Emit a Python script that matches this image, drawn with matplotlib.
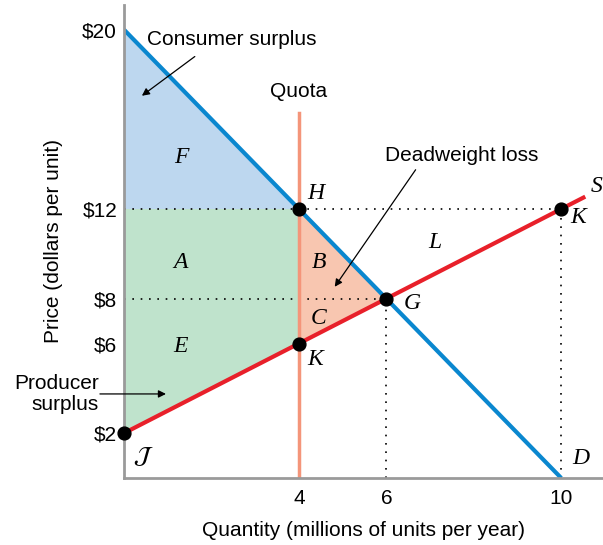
import numpy as np
import matplotlib.pyplot as plt

# demand / supply endpoints (quantity, price)
demand_q = [0, 10]
demand_p = [20, 0]
supply_q = [0, 10.55]
supply_p = [2, 12.55]
quota = 4

# labelled points
pts_q = [4, 6, 10, 4, 0]
pts_p = [12, 8, 12, 6, 2]

yticks = [2, 6, 8, 12, 20]
ytick_labels = ["$2", "$6", "$8", "$12", "$20"]
xticks = [4, 6, 10]

blue = "#0a87cf"
red = "#e8202a"
salmon = "#f4957a"
grey = "#9a9a9a"

plt.rcParams["font.family"] = ["Liberation Sans", "DejaVu Sans"]
plt.rcParams["mathtext.fontset"] = "stix"
serif = dict(family="Liberation Serif", style="italic", fontsize=17)
fs = 15

fig = plt.figure(figsize=(6.03, 5.45), dpi=100)
ax = fig.add_axes([0.2056, 0.1229, 0.794, 0.868])
ax.set_xlim(0, 10.95)
ax.set_ylim(0, 21.1)

# surplus areas
ax.fill([0, 0, 4], [12, 20, 12], color="#bdd7ef", lw=0)
ax.fill([0, 0, 4, 4], [2, 12, 12, 6], color="#bfe3cc", lw=0)
ax.fill([4, 4, 6], [6, 12, 8], color="#f8c6b0", lw=0)

# dotted guides
dot = dict(color="black", ls=(0, (1, 4)), lw=1.2)
ax.plot([0, 10], [12, 12], **dot)
ax.plot([0, 6], [8, 8], **dot)
ax.plot([6, 6], [0, 8], **dot)
ax.plot([10, 10], [0, 12], **dot)

# quota line
ax.plot([quota, quota], [0, 16.3], color=salmon, lw=2.5)
ax.text(quota, 16.8, "Quota", ha="center", va="bottom", fontsize=fs)

ax.plot(demand_q, demand_p, color=blue, lw=3, solid_capstyle="butt")
ax.plot(supply_q, supply_p, color=red, lw=3, solid_capstyle="butt")

ax.scatter(pts_q, pts_p, s=85, color="black", zorder=5, clip_on=False)

# area letters
ax.text(1.3, 14.3, "F", ha="center", va="center", **serif)
ax.text(1.3, 9.6, "A", ha="center", va="center", **serif)
ax.text(1.3, 5.85, "E", ha="center", va="center", **serif)
ax.text(4.45, 9.6, "B", ha="center", va="center", **serif)
ax.text(4.45, 7.1, "C", ha="center", va="center", **serif)
ax.text(7.1, 10.5, "L", ha="center", va="center", **serif)

# point letters
ax.text(4.2, 12.7, "H", ha="left", va="center", **serif)
ax.text(6.4, 7.8, "G", ha="left", va="center", **serif)
ax.text(10.2, 11.6, "K", ha="left", va="center", **serif)
ax.text(4.2, 5.3, "K", ha="left", va="center", **serif)
ax.text(0.2, 0.95, r"$\mathcal{J}$", ha="left", va="center", fontsize=17)
ax.text(10.25, 0.85, "D", ha="left", va="center", **serif)
ax.text(10.68, 13.0, "S", ha="left", va="center", clip_on=False, **serif)

# annotations
arrow = dict(arrowstyle="-|>", color="black", lw=0.9,
             shrinkA=0, shrinkB=0, mutation_scale=11)
ax.text(0.53, 19.55, "Consumer surplus", fontsize=fs, ha="left", va="center")
ax.annotate("", xy=(0.41, 17.05), xytext=(1.62, 18.8), arrowprops=arrow)
ax.text(7.73, 14.4, "Deadweight loss", fontsize=fs, ha="center", va="center")
ax.annotate("", xy=(4.82, 8.53), xytext=(6.67, 13.75), arrowprops=arrow)
ax.annotate("", xy=(0.96, 3.75), xytext=(-0.55, 3.75),
            arrowprops=arrow, annotation_clip=False)
ax.text(-0.58, 3.75, "Producer\nsurplus", ha="right", va="center",
        fontsize=fs, linespacing=1.15)

ax.set_yticks(yticks)
ax.set_yticklabels(ytick_labels)
ax.set_xticks(xticks)
ax.tick_params(length=0, labelsize=fs, colors="black", pad=8)
ax.tick_params(axis="y", pad=5)
for s in ["top", "right"]:
    ax.spines[s].set_visible(False)
for s in ["left", "bottom"]:
    ax.spines[s].set_color(grey)
    ax.spines[s].set_linewidth(2)

ax.set_xlabel("Quantity (millions of units per year)", fontsize=fs, labelpad=9)
ax.set_ylabel("Price (dollars per unit)", fontsize=fs, labelpad=14)

fig.savefig("out.png", dpi=100)
